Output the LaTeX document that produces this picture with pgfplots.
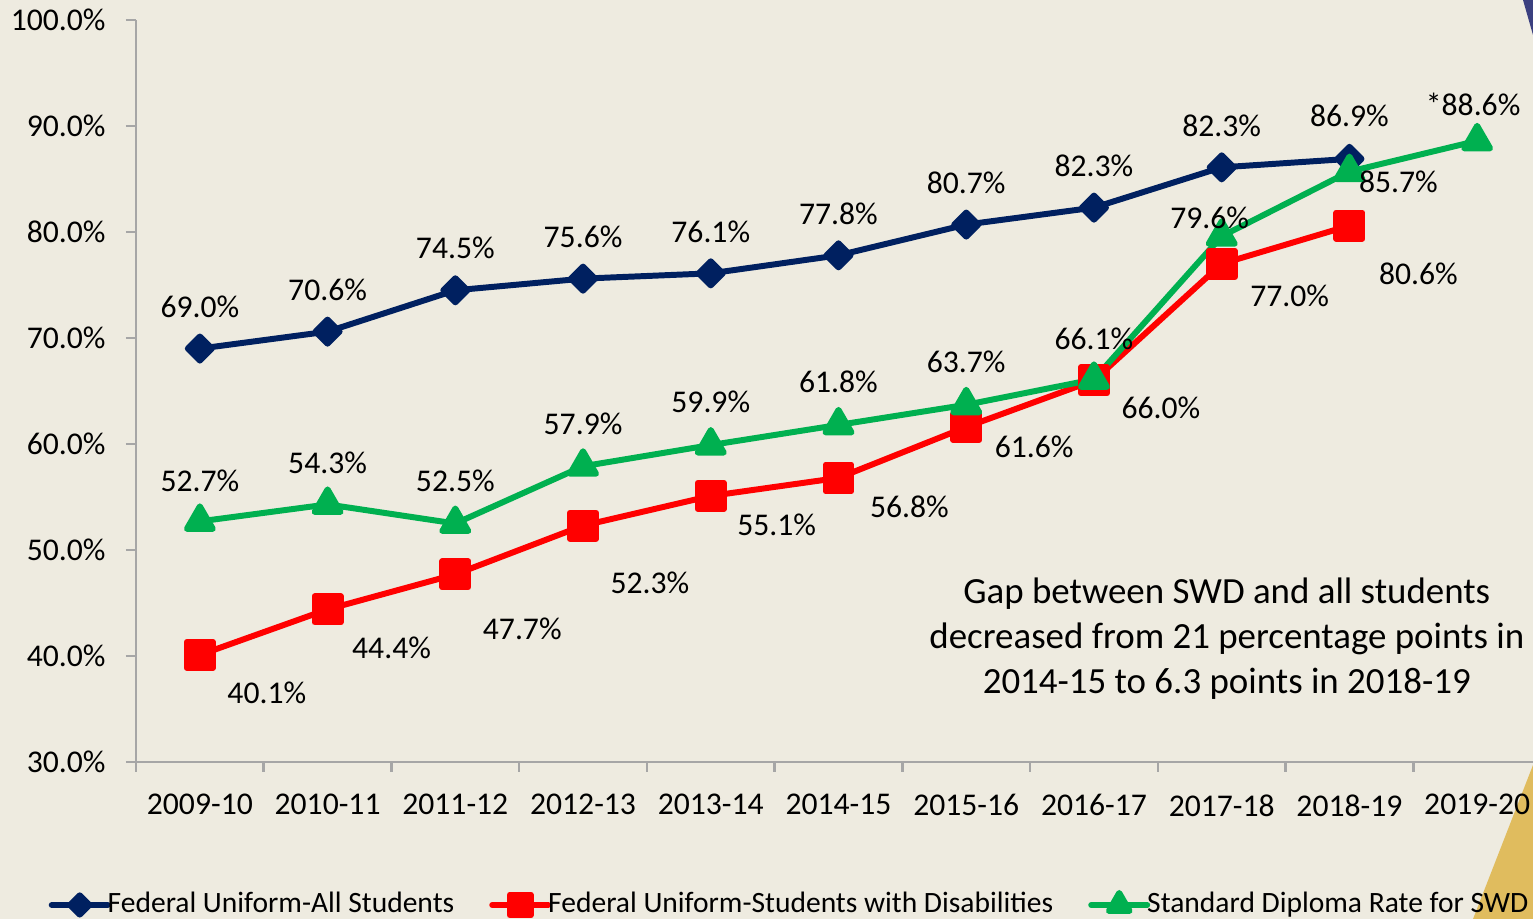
\documentclass[border=0pt]{standalone}
\usepackage{fontspec}
\setmainfont{Carlito}
\usepackage{pgfplots}
\usepackage{pgfplotstable}
\pgfplotsset{compat=1.18}

\definecolor{bg}{HTML}{EEEBE0}
\definecolor{navyline}{HTML}{002060}
\definecolor{swdred}{HTML}{FF0000}
\definecolor{dipgreen}{HTML}{00B050}
\definecolor{axisgray}{HTML}{A6A6A6}
\definecolor{cornerblue}{HTML}{3B4080}
\definecolor{cornergold}{HTML}{E0BC5E}

% x = school year index, lbl = printed label, dx/up = label offset in px
\pgfplotstableread{
x y lbl dx up
0 69.0 69.0 0 42
1 70.6 70.6 0 42
2 74.5 74.5 0 42
3 75.6 75.6 0 42
4 76.1 76.1 0 42
5 77.8 77.8 0 42
6 80.7 80.7 0 42
7 82.3 82.3 0 42
8 86.1 82.3 0 42
9 86.9 86.9 0 43
}\allstud

\pgfplotstableread{
x y lbl dx up
0 40.1 40.1 67 -38
1 44.4 44.4 64 -39
2 47.7 47.7 67 -55
3 52.3 52.3 67 -57
4 55.1 55.1 66 -29
5 56.8 56.8 71 -29
6 61.6 61.6 68 -20
7 66.0 66.0 67 -27
8 77.0 77.0 68 -32
9 80.6 80.6 69 -48
}\swd

\pgfplotstableread{
x y lbl dx up
0 52.7 52.7 0 41
1 54.3 54.3 0 42
2 52.5 52.5 0 43
3 57.9 57.9 0 42
4 59.9 59.9 0 43
5 61.8 61.8 0 43
6 63.7 63.7 0 43
7 66.1 66.1 0 41
8 79.6 79.6 -12 18
9 85.7 85.7 49 -10
10 88.6 *88.6 -4 36
}\diploma

\pgfplotsset{
  lbls/.style={
    nodes near coords={\pgfplotspointmeta\%},
    point meta=explicit symbolic,
    visualization depends on={\thisrow{dx} \as \dx},
    visualization depends on={\thisrow{up} \as \up},
    every node near coord/.append style={anchor=center, text=black,
      xshift=\dx*0.01cm, yshift=\up*0.01cm, font=\fontsize{9}{11}\selectfont},
  },
}

\begin{document}
\begin{tikzpicture}
\useasboundingbox (0,0) rectangle (15.33,9.19);
\clip (0,0) rectangle (15.33,9.19);
\fill[bg] (0,0) rectangle (15.33,9.19);
\fill[cornerblue] (15.23,9.19) -- (15.33,9.19) -- (15.33,8.84) -- cycle;
\fill[cornergold] (15.33,1.54) -- (14.73,0) -- (15.33,0) -- cycle;
\begin{axis}[
  at={(1.36cm,1.57cm)}, anchor=south west,
  scale only axis, width=14.05cm, height=7.42cm,
  xmin=-0.5, xmax=10.5, ymin=30, ymax=100,
  axis x line*=bottom, axis y line*=left,
  axis line style={axisgray, line width=0.7pt, -},
  xtick={0,...,10},
  xticklabels={2009-10,2010-11,2011-12,2012-13,2013-14,2014-15,2015-16,2016-17,2017-18,2018-19,2019-20},
  minor xtick={-0.5,0.5,...,10.5},
  major x tick style={draw=none},
  minor x tick style={axisgray, line width=0.7pt},
  ytick={30,40,...,100},
  y tick style={axisgray, line width=0.7pt},
  tick align=outside,
  major tick length=0.1cm, minor tick length=0.1cm,
  yticklabel={\pgfmathprintnumber[fixed,fixed zerofill,precision=1]{\tick}\%},
  /pgf/number format/assume math mode=true,
  tick label style={font=\fontsize{9}{11}\selectfont, text=black},
  yticklabel style={xshift=-0.08cm},
  xticklabel style={yshift=-0.10cm},
  clip=false,
  legend style={at={(-0.0626,-0.1927)}, anchor=west, draw=none, fill=none,
    inner sep=0pt, legend columns=3, font=\fontsize{8.4}{10}\selectfont,
    nodes={inner xsep=0pt},
    /tikz/every odd column/.append style={column sep=-0.03cm},
    /tikz/every even column/.append style={column sep=0.35cm}},
  legend cell align=left,
  legend image code/.code={
    \draw[mark repeat=2, mark phase=2, line cap=round,
      /tikz/every mark/.append style={scale=0.8}]
      plot coordinates {(0cm,0cm) (0.28cm,0cm) (0.56cm,0cm)};},
]
\addplot[navyline, line width=1.7pt, line join=round, mark=square*, mark size=0.85mm,
  mark options={solid, rotate=45}, lbls] table[x=x, y=y, meta=lbl] {\allstud};
\addlegendentry{Federal Uniform-All Students}
\addplot[swdred, line width=1.7pt, line join=round, mark=square*, mark size=1.3mm,
  mark options={solid}, lbls] table[x=x, y=y, meta=lbl] {\swd};
\addlegendentry{Federal Uniform-Students with Disabilities}
\addplot[dipgreen, line width=1.7pt, line join=round, mark=triangle*, mark size=1.5mm,
  mark options={solid}, lbls] table[x=x, y=y, meta=lbl] {\diploma};
\addlegendentry{Standard Diploma Rate for SWD}
\node[align=center, font=\fontsize{10.5}{12.8}\selectfont] at (axis cs:8.04,41.6)
  {Gap between SWD and all students\\decreased from 21 percentage points in\\2014-15 to 6.3 points in 2018-19};
\end{axis}
\end{tikzpicture}
\end{document}
